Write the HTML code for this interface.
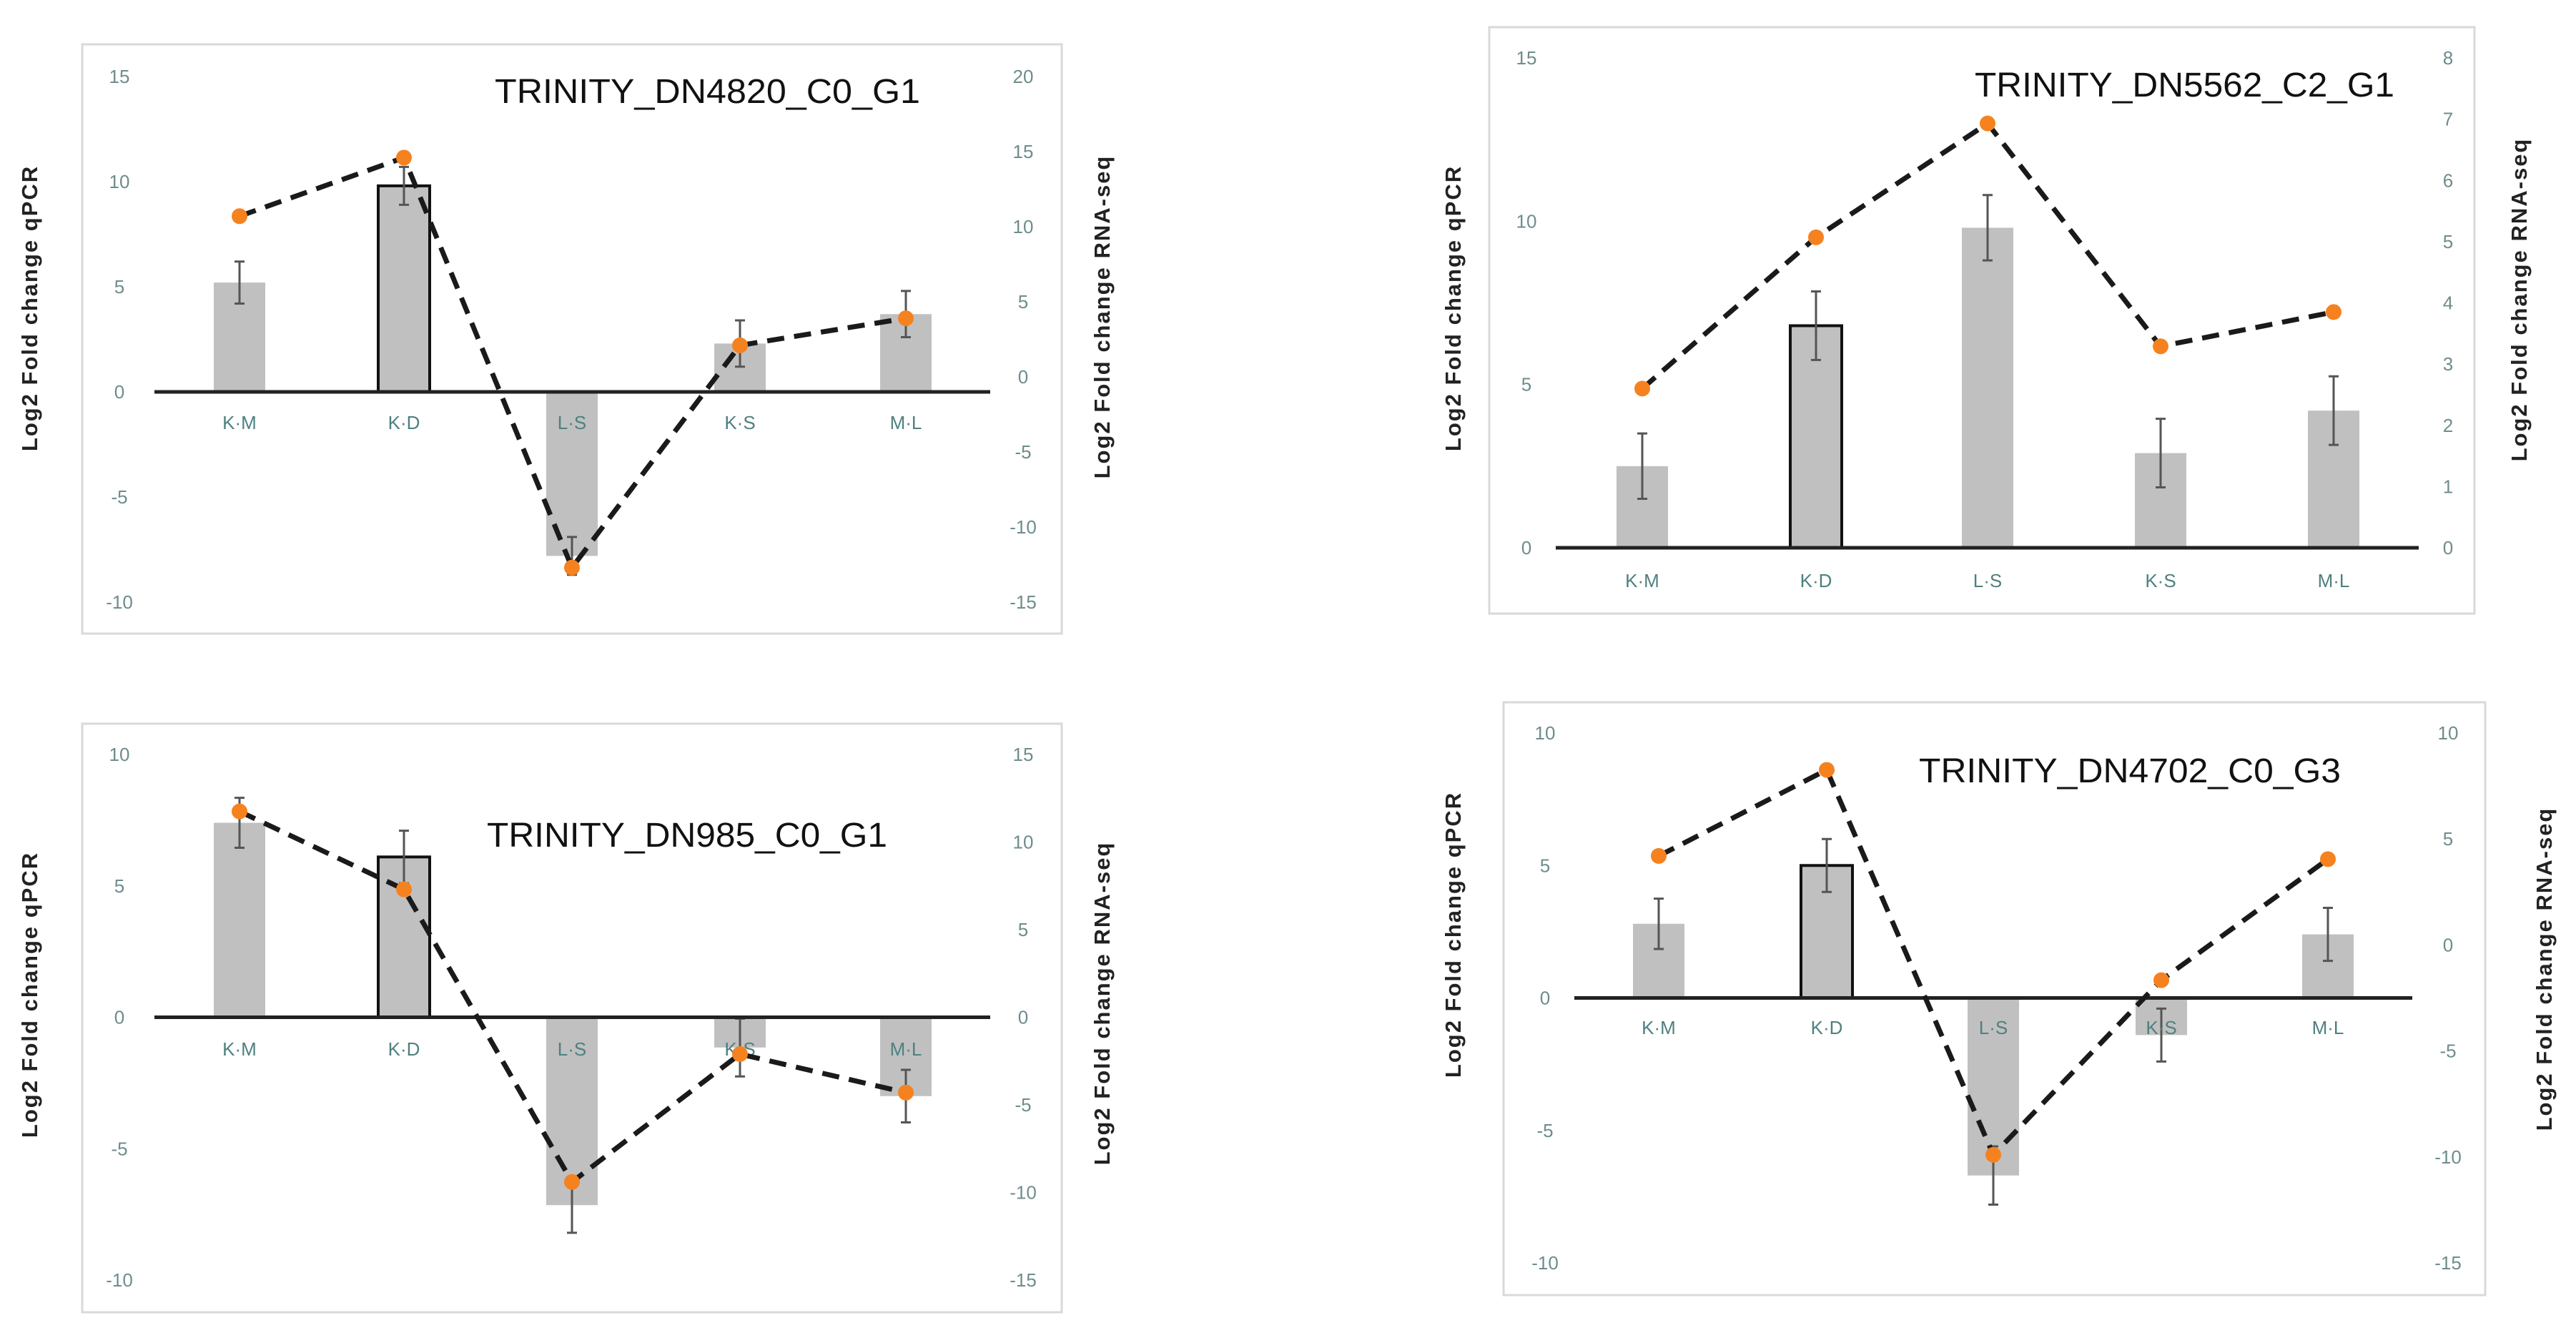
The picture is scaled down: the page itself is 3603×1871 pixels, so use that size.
<!DOCTYPE html>
<html><head><meta charset="utf-8"><style>
html,body{margin:0;padding:0;background:#fff;}
svg{display:block;}
</style></head><body>
<svg id="chart" width="3603" height="1871" xmlns="http://www.w3.org/2000/svg"></svg>
<script>
const categories = ["K-M","K-D","L-S","K-S","M-L"];
const titles = ["TRINITY_DN4820_C0_G1","TRINITY_DN5562_C2_G1","TRINITY_DN985_C0_G1","TRINITY_DN4702_C0_G3"];
const qpcr1 = [5.2, 9.8, -7.8, 2.3, 3.7];
const err1  = [1.0, 0.9, 0.9, 1.1, 1.1];
const rna1  = [10.7, 14.6, -12.7, 2.1, 3.9];
const qpcr2 = [2.5, 6.8, 9.8, 2.9, 4.2];
const err2  = [1.0, 1.05, 1.0, 1.05, 1.05];
const rna2  = [2.6, 5.07, 6.93, 3.29, 3.85];
const qpcr3 = [7.4, 6.1, -7.15, -1.15, -3.0];
const err3  = [0.95, 1.0, 1.05, 1.1, 1.0];
const rna3  = [11.75, 7.3, -9.4, -2.1, -4.3];
const qpcr4 = [2.8, 5.0, -6.7, -1.4, 2.4];
const err4  = [0.95, 1.0, 1.1, 1.0, 1.0];
const rna4  = [4.2, 8.26, -9.9, -1.66, 4.05];
const leftRange1=[-10,15], rightRange1=[-15,20], rightStep1=5;
const leftRange2=[0,15], rightRange2=[0,8], rightStep2=1;
const leftRange3=[-10,10], rightRange3=[-15,15], rightStep3=5;
const leftRange4=[-10,10], rightRange4=[-15,10], rightStep4=5;

const NS="http://www.w3.org/2000/svg";
const svg=document.getElementById('chart');
function mk(tag,attrs,parent){const e=document.createElementNS(NS,tag);for(const k in attrs)e.setAttribute(k,attrs[k]);(parent||svg).appendChild(e);return e;}

const layouts=[
 {frame:[115,62,1370,824], yTop:107, yBot:842, x0:216, x1:1385, cx:[335,565,800,1035,1267], lTickX:167, rTickX:1431, catY:600, lTitleX:40, lTitleY:431, rTitleX:1540, rTitleY:443, titleX:692, titleY:144, titleW:595},
 {frame:[2083,38,1378,820], yTop:81, yBot:766, x0:2176, x1:3383, cx:[2297,2540,2780,3022,3264], lTickX:2135, rTickX:3424, catY:821, lTitleX:2031, lTitleY:431, rTitleX:3522, rTitleY:419, titleX:2762, titleY:135, titleW:587},
 {frame:[115,1012,1370,823], yTop:1055, yBot:1790, x0:216, x1:1385, cx:[335,565,800,1035,1267], lTickX:167, rTickX:1431, catY:1476, lTitleX:40, lTitleY:1391, rTitleX:1540, rTitleY:1403, titleX:681, titleY:1184, titleW:560},
 {frame:[2103,982,1373,829], yTop:1025, yBot:1766, x0:2202, x1:3374, cx:[2320,2555,2788,3023,3256], lTickX:2161, rTickX:3424, catY:1446, lTitleX:2031, lTitleY:1307, rTitleX:3557, rTitleY:1355, titleX:2684, titleY:1094, titleW:590}
];
const datasets=[
 {q:qpcr1,e:err1,r:rna1,lr:leftRange1,rr:rightRange1,rs:rightStep1},
 {q:qpcr2,e:err2,r:rna2,lr:leftRange2,rr:rightRange2,rs:rightStep2},
 {q:qpcr3,e:err3,r:rna3,lr:leftRange3,rr:rightRange3,rs:rightStep3},
 {q:qpcr4,e:err4,r:rna4,lr:leftRange4,rr:rightRange4,rs:rightStep4}
];

datasets.forEach((d,p)=>{
 const L=layouts[p];
 const g=mk('g',{});
 
 
 const yL=v=>L.yBot-(v-d.lr[0])/(d.lr[1]-d.lr[0])*(L.yBot-L.yTop);
 const yR=v=>L.yBot-(v-d.rr[0])/(d.rr[1]-d.rr[0])*(L.yBot-L.yTop);
 const fr=mk('rect',{x:L.frame[0],y:L.frame[1],width:L.frame[2],height:L.frame[3],fill:'#fff',stroke:'#d9d9d9','stroke-width':3},g);
 
 
 for(let v=d.lr[0];v<=d.lr[1];v+=5){
  const t=mk('text',{x:L.lTickX,y:yL(v)+9,'text-anchor':'middle','font-size':26,fill:'#6f8c8c','font-family':'Liberation Sans Narrow, Liberation Sans, sans-serif'},g);
  t.textContent=String(v);
  
  
 }
 for(let v=d.rr[0];v<=d.rr[1];v+=d.rs){
  const t=mk('text',{x:L.rTickX,y:yR(v)+9,'text-anchor':'middle','font-size':26,fill:'#6f8c8c','font-family':'Liberation Sans Narrow, Liberation Sans, sans-serif'},g);
  t.textContent=String(v);
  
  
 }
 const bw=72, y0=yL(0);
 d.q.forEach((v,i)=>{
  const x=L.cx[i];
  const top=Math.min(yL(v),y0), h=Math.abs(yL(v)-y0);
  const b=mk('rect',{x:x-bw/2,y:top,width:bw,height:h,fill:'#c0c0c0',stroke:i===1?'#111':'none','stroke-width':i===1?4:0},g);
  
  
  const eh=yL(v+d.e[i]), el=yL(v-d.e[i]);
  const eb=mk('path',{d:`M${x},${eh}V${el}M${x-7},${eh}H${x+7}M${x-7},${el}H${x+7}`,stroke:'#555','stroke-width':3,fill:'none'},g);
  
  
 });
 const ax=mk('line',{x1:L.x0,x2:L.x1,y1:y0,y2:y0,stroke:'#222','stroke-width':5},g);
 
 
 categories.forEach((c,i)=>{
  const t=mk('text',{x:L.cx[i],y:L.catY,'text-anchor':'middle','font-size':26,fill:'#4f8080','font-family':'Liberation Sans Narrow, Liberation Sans, sans-serif'},g);
  t.textContent=c.replace('-','·');
  
  
 });
 const pts=d.r.map((v,i)=>L.cx[i]+','+yR(v)).join(' ');
 const ln=mk('polyline',{points:pts,fill:'none',stroke:'#1a1a1a','stroke-width':7,'stroke-dasharray':'24,14'},g);
 
 
 d.r.forEach((v,i)=>{
  const c=mk('circle',{cx:L.cx[i],cy:yR(v),r:11,fill:'#f5821f'},g);
  
  
 });
 const lt=mk('text',{x:0,y:0,transform:`translate(${L.lTitleX+12},${L.lTitleY}) rotate(-90)`,'text-anchor':'middle','font-size':31,'font-weight':'bold',fill:'#222','font-family':'Liberation Sans, sans-serif','letter-spacing':2},g);
 lt.textContent='Log2 Fold change qPCR';
 
 
 const rt=mk('text',{x:0,y:0,transform:`translate(${L.rTitleX+12},${L.rTitleY}) rotate(-90)`,'text-anchor':'middle','font-size':31,'font-weight':'bold',fill:'#222','font-family':'Liberation Sans, sans-serif','letter-spacing':2},g);
 rt.textContent='Log2  Fold change RNA-seq';
 
 
 const tt=mk('text',{x:L.titleX,y:L.titleY,'font-size':48,fill:'#111','font-family':'Liberation Sans Narrow, Liberation Sans, sans-serif',textLength:L.titleW,lengthAdjust:'spacingAndGlyphs'},g);
 tt.textContent=titles[p];
 
 
});
</script>
</body></html>
